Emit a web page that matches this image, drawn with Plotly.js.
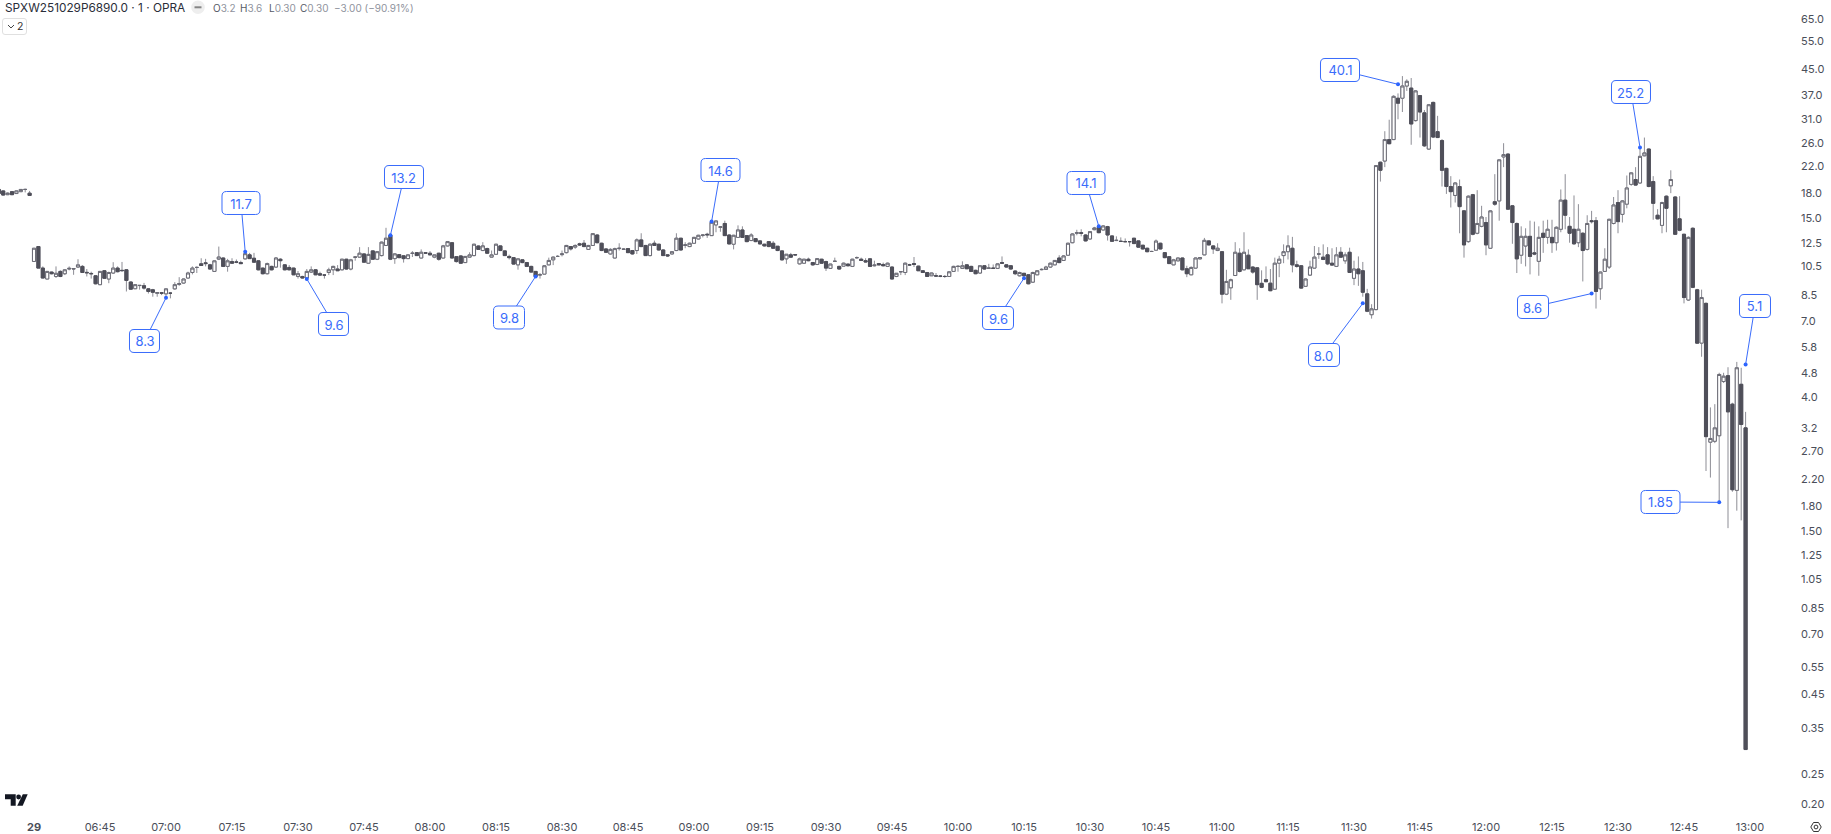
<!DOCTYPE html>
<html>
<head>
<meta charset="utf-8">
<script src="https://cdn.plot.ly/plotly-3.0.1.min.js"></script>
<style>html,body{margin:0;padding:0;background:#fff}#chart{width:1831px;height:834px}</style>
</head>
<body>
<div id="chart"></div>
<script>
// Each row: [open, high, low, close], one per minute.
const barsPre = [[18.5,18.55,17.9,17.95],[18.3,18.35,17.7,17.75],[17.8,18.1,17.75,18.0],[18.2,18.25,17.75,17.8],[17.95,18.35,17.9,18.3],[18.2,18.55,18.15,18.5],[18.5,18.6,18.1,18.5],[18.0,18.3,17.65,17.7]];
const bars0630 = [[10.89,12.0,10.89,12.0],[12.15,12.15,10.37,10.37],[10.37,10.5,9.64,9.64],[9.57,10.12,9.57,10.12],[10.07,10.1,9.9,9.95],[9.75,10.5,9.64,9.98],[10.12,10.2,9.7,9.75],[9.95,10.3,9.85,10.24],[10.3,10.5,10.2,10.35],[10.3,10.35,9.87,10.33],[10.45,11.07,10.4,10.62],[10.5,10.6,10.0,10.04],[10.05,10.3,9.75,10.02],[9.97,10.1,9.6,9.95],[9.8,9.85,9.2,9.24],[9.18,10.15,9.15,10.12],[10.17,10.2,9.6,9.62],[9.57,10.1,9.28,10.04],[10.0,10.83,9.95,10.37],[10.37,10.5,10.05,10.1],[10.2,10.85,10.1,10.18],[10.24,10.3,8.73,9.47],[9.36,9.4,8.85,8.88],[8.91,9.18,8.91,9.18],[9.12,9.15,8.85,9.13],[9.11,9.3,8.85,8.95],[8.9,8.95,8.6,8.73],[8.84,8.9,8.4,8.68],[8.62,8.67,8.4,8.65],[8.65,8.7,8.5,8.62]];
const bars0700 = [[8.58,8.95,8.33,8.9],[8.62,8.7,8.3,8.62],[8.9,9.35,8.85,9.18],[9.2,9.7,9.1,9.25],[9.29,9.6,9.25,9.57],[9.64,10.1,9.6,10.0],[10.04,10.5,9.9,10.37],[10.42,10.5,10.0,10.42],[10.7,11.15,10.55,10.57],[10.78,11.1,10.5,10.72],[10.62,10.7,10.25,10.3],[10.12,11.0,10.1,10.94],[11.08,12.15,11.0,11.25],[11.17,11.2,10.45,10.5],[10.5,11.1,10.1,10.94],[10.88,11.15,10.7,10.75],[10.85,11.05,10.75,10.83],[10.8,10.95,10.7,10.72],[11.1,11.7,11.05,11.53],[11.43,11.6,11.1,11.12],[11.15,11.6,10.8,10.83],[10.94,11.0,10.2,10.24],[10.37,10.4,9.9,9.95],[9.95,10.8,9.9,10.72],[10.5,10.55,10.2,10.24],[10.45,11.25,10.4,11.17],[11.07,11.15,10.4,10.95],[10.62,10.65,10.2,10.24],[10.42,10.6,10.2,10.24],[10.37,10.4,9.85,9.87]];
const bars0730 = [[9.75,10.15,9.6,9.95],[9.75,9.8,9.6,9.64],[9.64,10.3,9.57,10.12],[10.07,10.5,10.0,10.24],[10.24,10.3,9.85,9.87],[9.95,10.1,9.8,9.85],[9.85,9.87,9.6,9.85],[10.04,10.4,9.85,10.24],[10.24,10.55,9.85,10.5],[10.3,10.6,10.15,10.17],[10.24,11.1,10.2,11.07],[11.07,11.1,10.25,10.3],[10.3,11.1,10.2,11.02],[11.24,11.3,10.95,11.24],[11.24,12.1,11.2,11.57],[11.51,11.55,10.8,10.83],[10.75,12.1,10.7,11.47],[11.77,11.8,11.05,11.07],[11.07,11.75,11.0,11.7],[11.37,12.6,11.3,12.55],[12.25,13.95,12.2,12.92],[13.2,13.25,11.0,11.07],[11.12,11.55,10.7,11.51],[11.45,11.5,11.15,11.2],[11.35,11.4,10.8,11.12],[11.12,11.5,11.1,11.43],[11.55,11.75,11.25,11.57],[11.62,11.65,11.35,11.37],[11.17,11.9,11.15,11.65],[11.6,11.65,11.55,11.58]];
const bars0800 = [[11.57,11.75,11.4,11.43],[11.24,11.45,11.15,11.43],[11.57,11.6,10.95,11.07],[11.17,12.3,11.15,12.21],[12.21,12.65,12.15,12.6],[12.5,12.55,11.15,11.17],[11.28,11.3,10.8,10.88],[11.34,11.4,10.7,10.75],[10.8,11.3,10.8,11.3],[11.24,11.65,11.2,11.43],[11.37,12.4,11.3,12.36],[12.2,12.25,11.85,11.9],[11.8,12.55,11.75,12.21],[11.97,12.05,11.5,11.57],[11.24,11.8,11.2,11.43],[11.48,12.4,11.45,12.36],[12.21,12.25,11.75,11.8],[11.77,11.8,11.35,11.37],[11.3,11.45,11.05,11.2],[11.2,11.25,10.65,10.68],[10.62,11.15,10.25,11.1],[11.02,11.05,10.75,10.8],[10.8,10.85,10.45,10.5],[10.5,10.55,10.05,10.07],[10.12,10.15,9.75,9.75],[9.87,10.0,9.6,9.87],[9.92,10.6,9.9,10.55],[10.62,11.2,10.6,10.97],[11.02,11.3,10.6,11.24],[11.3,11.4,11.25,11.3]];
const bars0830 = [[11.45,11.8,11.3,11.51],[11.62,12.3,11.55,12.25],[12.15,12.2,11.8,11.94],[12.1,12.35,11.95,12.25],[12.4,12.5,12.2,12.3],[12.45,12.75,12.1,12.15],[11.9,12.3,11.85,12.25],[12.25,13.4,12.2,13.36],[13.23,13.3,12.45,12.5],[12.45,12.5,11.75,11.8],[11.94,12.0,11.6,11.65],[11.51,12.0,11.45,11.9],[11.17,12.05,11.15,11.97],[11.97,12.45,11.8,12.0],[11.9,12.0,11.85,11.92],[11.97,12.0,11.6,11.62],[11.8,11.85,11.45,11.51],[11.8,12.9,11.5,12.76],[12.76,13.4,12.1,12.15],[12.25,12.3,11.35,11.37],[11.37,12.45,11.3,12.36],[12.45,12.7,12.2,12.25],[12.36,12.4,11.8,11.85],[11.85,11.9,11.35,11.37],[11.43,11.5,11.25,11.35],[11.51,11.75,11.45,11.7],[11.8,13.4,11.75,12.92],[12.92,12.95,11.8,11.85],[12.25,12.55,12.0,12.3],[12.15,12.5,12.1,12.45]];
const bars0900 = [[12.45,13.05,12.4,13.0],[12.85,13.25,12.8,13.2],[13.2,13.3,13.0,13.22],[13.3,13.45,12.95,13.25],[13.17,14.6,13.15,14.53],[14.25,14.7,13.5,14.67],[14.0,14.1,13.55,14.05],[14.4,14.7,13.15,13.17],[13.23,13.3,12.35,12.39],[12.36,13.25,11.9,13.2],[13.0,14.2,12.95,13.73],[13.73,14.1,12.95,13.0],[13.17,13.2,12.55,12.6],[12.7,13.4,12.65,13.23],[12.88,12.9,12.55,12.6],[12.67,12.7,12.35,12.39],[12.36,12.4,12.15,12.21],[12.6,12.65,12.1,12.15],[12.45,12.65,11.95,12.0],[12.18,12.2,11.75,11.8],[11.77,11.8,10.95,11.02],[11.1,11.5,10.7,11.48],[11.43,11.6,11.2,11.24],[11.45,11.5,11.35,11.43],[10.7,11.2,10.65,11.1],[10.75,11.1,10.7,11.07],[11.07,11.2,10.9,10.95],[10.8,10.85,10.55,10.62],[10.65,11.15,10.6,11.12],[11.07,11.1,10.7,10.75]];
const bars0930 = [[10.88,10.95,10.15,10.37],[10.35,10.7,10.3,10.68],[10.9,11.2,10.85,10.9],[10.5,10.55,10.25,10.3],[10.52,10.8,10.5,10.75],[10.68,10.7,10.5,10.55],[10.5,11.1,10.45,11.07],[11.2,11.3,11.1,11.2],[11.07,11.2,10.95,10.97],[10.95,11.15,10.8,10.85],[11.1,11.15,10.45,10.5],[10.55,10.95,10.5,10.6],[10.72,10.75,10.6,10.62],[10.65,10.8,10.5,10.55],[10.5,10.8,10.45,10.75],[10.45,10.5,9.55,9.57],[9.75,10.0,9.7,9.98],[10.1,10.15,9.85,10.1],[10.04,10.8,9.85,10.75],[10.62,10.7,10.55,10.62],[10.72,11.25,10.45,10.65],[10.52,10.55,10.15,10.17],[10.17,10.2,10.0,10.04],[10.04,10.07,9.72,9.75],[9.8,10.02,9.78,10.0],[9.8,10.0,9.75,9.78],[9.78,9.85,9.7,9.76],[9.75,9.85,9.65,9.75],[9.75,10.15,9.72,10.09],[10.12,10.55,10.1,10.5]];
const bars1000 = [[10.5,10.6,10.1,10.5],[10.35,10.9,10.3,10.55],[10.62,10.65,10.3,10.32],[10.5,10.55,10.1,10.12],[10.2,10.25,9.92,9.95],[10.0,10.6,9.95,10.55],[10.55,10.6,10.25,10.3],[10.35,10.7,10.32,10.37],[10.37,10.65,10.3,10.35],[10.35,10.75,10.3,10.7],[10.8,11.3,10.7,10.75],[10.62,10.65,10.4,10.45],[10.55,10.6,10.25,10.3],[10.15,10.2,9.85,9.95],[9.8,10.1,9.75,10.04],[9.98,10.0,9.63,9.8],[9.87,9.9,9.2,9.24],[9.35,10.1,9.3,10.04],[9.87,10.2,9.85,10.17],[10.25,10.35,10.2,10.27],[10.27,10.55,10.25,10.45],[10.45,10.8,10.4,10.75],[10.62,11.0,10.6,10.97],[11.17,11.4,10.75,10.8],[10.97,11.4,10.95,11.34],[11.4,12.5,11.35,12.45],[12.5,13.4,12.45,13.33],[13.4,13.75,13.2,13.45],[13.45,13.8,13.1,13.4],[13.23,13.3,12.62,12.67]];
const bars1030 = [[12.85,13.6,12.8,13.56],[13.76,14.05,13.7,13.93],[14.0,14.1,13.4,13.46],[13.73,14.2,13.7,14.14],[14.07,14.15,12.7,13.23],[13.14,13.18,12.6,12.63],[12.7,13.1,12.65,12.72],[12.63,13.0,12.6,12.62],[12.6,12.9,12.55,12.6],[12.6,12.65,12.15,12.6],[12.92,12.95,12.4,12.42],[12.67,12.7,12.05,12.1],[12.27,12.3,11.9,11.94],[12.0,12.05,11.65,11.7],[11.72,11.78,11.68,11.72],[11.83,12.8,11.8,12.65],[12.45,12.5,11.9,11.94],[11.62,11.65,11.15,11.2],[11.28,11.3,10.7,10.72],[10.62,11.1,10.6,11.02],[10.94,11.2,10.9,11.17],[11.17,11.2,10.2,10.24],[10.32,10.55,9.7,9.95],[9.87,10.5,9.85,10.42],[10.37,11.2,10.35,11.17],[11.1,11.25,11.05,11.2],[11.43,12.95,11.4,12.72],[12.67,12.7,12.25,12.3],[12.21,12.25,11.51,11.94],[11.8,12.45,11.75,12.0]];
const bars1100 = [[11.7,11.75,8.0,8.56],[8.56,10.24,8.5,9.4],[8.97,9.6,8.21,9.52],[9.82,12.55,9.78,11.65],[11.57,12.0,10.05,10.12],[10.24,13.5,10.2,11.65],[11.4,11.9,10.3,10.32],[10.45,10.5,9.95,10.07],[10.39,10.4,8.21,9.18],[9.27,10.2,8.95,9.0],[9.52,10.5,9.35,9.38],[9.28,10.3,8.75,8.78],[8.88,11.2,8.85,10.75],[10.75,11.35,9.7,11.07],[11.37,12.35,10.75,11.7],[11.7,13.2,11.05,12.21],[12.0,13.05,10.05,10.62],[10.62,10.95,10.4,10.5],[10.55,10.6,8.9,8.95],[9.07,9.6,9.05,9.57],[9.85,10.95,9.8,10.45],[10.37,12.2,10.35,11.24],[11.5,12.1,11.1,11.5],[11.24,12.35,11.0,11.05],[11.43,12.1,10.6,10.7],[10.75,12.0,10.55,10.6],[10.5,12.1,10.45,11.43],[11.65,12.1,11.2,11.24],[10.94,11.65,10.7,11.43],[11.65,12.05,10.0,10.04]];
const bars1130 = [[9.62,10.95,9.15,10.3],[10.3,11.3,9.1,9.95],[10.17,10.85,8.4,8.68],[8.58,8.9,7.5,7.55],[7.36,7.95,7.15,7.68],[7.64,22.1,7.6,22.05],[22.6,22.7,19.6,21.3],[22.8,28.4,21.8,26.7],[26.7,30.9,25.8,25.9],[26.7,37.0,26.6,36.7],[36.2,37.5,31.0,34.9],[36.2,42.6,32.7,39.6],[39.6,41.6,38.2,41.0],[39.0,42.0,25.7,29.95],[30.7,38.4,30.5,38.2],[36.9,37.0,27.1,32.7],[32.5,33.2,25.3,25.5],[24.9,34.7,24.8,34.5],[35.1,35.3,27.0,27.2],[28.3,31.8,27.0,27.1],[26.5,26.8,18.9,21.3],[21.6,21.7,17.9,18.9],[18.9,20.4,16.2,18.2],[17.7,19.5,16.8,19.4],[18.9,19.9,13.4,16.3],[15.8,15.9,11.2,12.3],[12.6,17.7,12.5,17.6],[17.8,17.9,13.2,13.3],[13.4,18.4,13.3,14.4],[14.1,16.4,14.0,15.1]];
const bars1200 = [[14.5,15.1,11.4,12.3],[12.0,15.9,11.95,15.8],[16.9,20.7,16.4,16.6],[17.0,23.1,14.7,23.0],[23.5,26.0,21.8,23.9],[24.0,24.1,15.95,16.0],[16.4,16.5,12.4,14.5],[14.4,14.5,10.0,11.1],[11.4,14.1,10.7,13.1],[12.2,13.9,10.5,13.1],[13.1,14.7,9.9,11.3],[11.6,14.6,11.4,11.5],[10.9,14.1,9.8,13.0],[13.4,14.7,11.6,13.0],[13.0,14.8,12.4,13.8],[13.0,14.8,11.6,12.5],[12.5,14.1,11.8,14.0],[13.8,18.5,13.5,17.1],[17.1,20.7,13.8,15.3],[14.1,15.1,12.5,13.4],[13.8,17.7,12.3,12.4],[12.5,16.6,12.1,13.8],[13.4,13.5,9.4,11.8],[11.9,15.3,11.8,14.4],[14.7,15.8,14.4,14.6],[14.7,15.1,7.7,8.73],[8.91,10.1,8.21,10.07],[10.12,12.0,10.1,11.07],[10.45,14.9,10.3,14.85],[14.4,17.5,14.3,16.5]];
const bars1230 = [[16.8,18.4,13.4,14.6],[15.4,17.1,14.5,17.0],[16.6,20.5,16.1,18.7],[19.2,21.0,19.0,20.9],[19.9,21.8,19.05,19.1],[19.4,24.9,19.3,23.6],[23.7,27.1,23.6,24.2],[24.9,25.0,18.8,18.9],[19.6,20.4,14.8,16.7],[15.3,16.0,14.85,14.9],[14.2,16.9,13.4,16.8],[17.6,17.7,13.5,16.1],[19.0,21.3,18.0,19.9],[17.5,17.6,13.25,13.3],[14.9,17.6,13.6,13.7],[13.3,13.35,8.0,8.35],[8.2,13.1,8.15,13.0],[13.9,14.0,8.95,9.0],[8.84,8.9,5.95,5.97],[5.97,8.85,5.4,8.35],[8.0,8.05,2.33,3.0],[2.88,3.72,2.22,2.96],[2.9,3.81,2.86,3.2],[3.02,4.8,1.86,4.74],[4.5,4.8,4.45,4.68],[4.7,5.0,1.53,3.6],[3.81,3.85,2.0,2.03],[2.02,5.2,1.74,4.98],[4.41,4.98,1.62,3.28],[3.2,3.6,0.3,0.3]];

const allBars = [].concat(barsPre, bars0630, bars0700, bars0730, bars0800, bars0830, bars0900, bars0930, bars1000, bars1030, bars1100, bars1130, bars1200, bars1230);
const firstMinute = 382; // minute of day of the first bar drawn (06:22)
const minutes = allBars.map((_, i) => firstMinute + i);

const priceTicks = [65,55,45,37,31,26,22,18,15,12.5,10.5,8.5,7,5.8,4.8,4,3.2,2.7,2.2,1.8,1.5,1.25,1.05,0.85,0.7,0.55,0.45,0.35,0.25,0.2];
const priceTickLabels = ['65.0','55.0','45.0','37.0','31.0','26.0','22.0','18.0','15.0','12.5','10.5','8.5','7.0','5.8','4.8','4.0','3.2','2.70','2.20','1.80','1.50','1.25','1.05','0.85','0.70','0.55','0.45','0.35','0.25','0.20'];
const timeTicks = [390,405,420,435,450,465,480,495,510,525,540,555,570,585,600,615,630,645,660,675,690,705,720,735,750,765,780];
const timeTickLabels = ['<b>29</b>','06:45','07:00','07:15','07:30','07:45','08:00','08:15','08:30','08:45','09:00','09:15','09:30','09:45','10:00','10:15','10:30','10:45','11:00','11:15','11:30','11:45','12:00','12:15','12:30','12:45','13:00'];

const calloutLabels = ['8.3','11.7','9.6','13.2','9.8','14.6','9.6','14.1','8.0','40.1','8.6','25.2','5.1','1.85'];
const calloutMinutes = [420,438,452,471,504,544,615,632,692,700,744,755,779,773];
const calloutPrices = [8.33,11.7,9.57,13.2,9.75,14.6,9.63,14.1,8.0,40.1,8.6,25.2,5.1,1.85];
// label box centre (screen px) and width
const boxCentreX = [144.5,241,333.5,404,509,720.5,998,1086,1324,1340,1533,1631,1755,1660.5];
const boxCentreY = [341,203,324,177,317.5,170,318,183,355,70,307,92,306,502];
const boxWidth = [30,38,30,39,31,39,31,38,31,39,31,39,31,39];

const headerTitle = 'SPXW251029P6890.0 · 1 · OPRA';
const headerLetters = ['O','H','L','C'];
const headerValues = ['3.2','3.6','0.30','0.30'];
const headerChange = '−3.00 (−90.91%)';

// plot-area geometry, in screen px
const W = 1831, H = 834, plotR = 1800, plotB = 812;
const pxPerMinute = 4.4, x0630 = 34;
const yTop = 1.8726, yBottom = -0.7225;
const pxPerDecade = plotB / (yTop - yBottom);
const xOf = m => x0630 + (m - 390) * pxPerMinute;
const yOf = p => (yTop - Math.log10(p)) * pxPerDecade;
const px = x => (x / plotR).toFixed(5);
const py = y => (1 - y / plotB).toFixed(5);
const pt = (x, y) => px(x) + ',' + py(y);

function roundRect(x0, y0, x1, y1, r) {
  return 'M' + pt(x0 + r, y0) + 'L' + pt(x1 - r, y0) + 'Q' + pt(x1, y0) + ' ' + pt(x1, y0 + r) +
    'L' + pt(x1, y1 - r) + 'Q' + pt(x1, y1) + ' ' + pt(x1 - r, y1) +
    'L' + pt(x0 + r, y1) + 'Q' + pt(x0, y1) + ' ' + pt(x0, y1 - r) +
    'L' + pt(x0, y0 + r) + 'Q' + pt(x0, y0) + ' ' + pt(x0 + r, y0) + 'Z';
}
function poly(list) { return 'M' + list.map(p => pt(p[0], p[1])).join('L') + 'Z'; }
function open(list) { return 'M' + list.map(p => pt(p[0], p[1])).join('L'); }
const paperShape = (path, fill, line, width) => ({type:'path', xref:'paper', yref:'paper', path, fillcolor: fill, line:{color: line, width: width}, layer:'above'});
const circle = (cx, cy, r, fill, line, width) => ({type:'circle', xref:'paper', yref:'paper', x0:px(cx-r), x1:px(cx+r), y0:py(cy+r), y1:py(cy-r), fillcolor: fill, line:{color: line, width: width}, layer:'above'});
const headerNote = (x, y, text, size, color, anchor) => ({xref:'paper', yref:'paper', x:px(x), y:py(y), xanchor:anchor || 'left', yanchor:'middle', showarrow:false,
  text, font:{family:'Inter, sans-serif', size, color}});

const blue = '#3a6cfb';
const shapes = [];
const annotations = [];
calloutLabels.forEach((label, i) => {
  const w = boxWidth[i], h = 23, cx = boxCentreX[i], cy = boxCentreY[i];
  shapes.push(paperShape(roundRect(cx - w/2, cy - h/2, cx + w/2, cy + h/2, 4.5), '#ffffff', blue, 1));
  annotations.push({
    x: calloutMinutes[i], y: Math.log10(calloutPrices[i]), xref:'x', yref:'y',
    ax: cx - xOf(calloutMinutes[i]), ay: cy - yOf(calloutPrices[i]), axref:'pixel', ayref:'pixel',
    text: label, showarrow: true, arrowhead: 0, arrowwidth: 1, arrowcolor: blue, standoff: 0,
    width: w, height: h, borderpad: 0, borderwidth: 0, align:'center', valign:'middle',
    font:{family:'Inter, sans-serif', size:13, color: blue}
  });
});

// header
annotations.push(headerNote(3, 7.5, headerTitle, 11.8, '#2a2e39'));
const headerX = [210.7, 238.3, 266.7, 297.7];
headerLetters.forEach((l, i) => {
  annotations.push(headerNote(headerX[i], 7.5, '<span style="color:#555a66">' + l + '</span><span style="color:#8f939d">' + headerValues[i] + '</span>', 10, '#8f939d'));
});
annotations.push(headerNote(331.7, 7.5, headerChange, 10, '#8f939d'));
shapes.push(circle(198, 7.3, 6.8, '#eeeeee', '#eeeeee', 0));
shapes.push(paperShape(open([[194.5,7.3],[201.5,7.3]]), 'rgba(0,0,0,0)', '#858585', 2));
// collapse button
shapes.push(paperShape(roundRect(2.5,18.5,26.5,34.5,2.5), '#ffffff', '#e0e0e0', 1));
shapes.push(paperShape(open([[8,25],[11,28],[14,25]]), 'rgba(0,0,0,0)', '#444444', 1));
annotations.push(headerNote(20.3, 26, '2', 10.5, '#333333', 'center'));
// logo
shapes.push(paperShape(poly([[5,794.3],[15.7,794.3],[15.7,805.7],[10.7,805.7],[10.7,799.3],[5,799.3]]), '#131722', '#131722', 0));
shapes.push(circle(18.6, 797, 2.4, '#131722', '#131722', 0));
shapes.push(paperShape(poly([[22.8,794.3],[27.7,794.3],[22.7,805.7],[17.2,805.7]]), '#131722', '#131722', 0));
// settings icon
shapes.push(paperShape(poly([[1810.8,827],[1813.5,822.5],[1818.5,822.5],[1821.2,827],[1818.5,831.5],[1813.5,831.5]]), 'rgba(0,0,0,0)', '#333333', 1));
shapes.push(circle(1816, 827, 1.9, 'rgba(0,0,0,0)', '#333333', 1));

const opens = allBars.map(b => b[0]), highs = allBars.map(b => b[1]), lows = allBars.map(b => b[2]), closes = allBars.map(b => b[3]);
const wickColor = '#8d8d95';
const traces = [
  // full candles in the lighter wick colour
  {type:'candlestick', x: minutes, open: opens, high: highs, low: lows, close: closes,
   increasing:{line:{color:wickColor, width:1}, fillcolor:'#ffffff'},
   decreasing:{line:{color:wickColor, width:1}, fillcolor:'#4f4f59'},
   whiskerwidth:0, hoverinfo:'skip'},
  // the same candles' bodies on top, in the darker body colour
  {type:'candlestick', x: minutes, open: opens, close: closes,
   high: allBars.map(b => Math.max(b[0], b[3])), low: allBars.map(b => Math.min(b[0], b[3])),
   increasing:{line:{color:'#6a6a74', width:1}, fillcolor:'#ffffff'},
   decreasing:{line:{color:'#4f4f59', width:1}, fillcolor:'#4f4f59'},
   whiskerwidth:0, hoverinfo:'skip'},
  {type:'scatter', mode:'markers', x: calloutMinutes, y: calloutPrices, hoverinfo:'skip',
   marker:{color: '#2962ff', size:4, line:{width:0}}}
];

const layout = {
  width: W, height: H, margin:{l:0, r:W - plotR, t:0, b:H - plotB, pad:0},
  paper_bgcolor:'#ffffff', plot_bgcolor:'#ffffff', showlegend:false, hovermode:false, dragmode:false,
  boxmode:'overlay', boxgap:0.3, boxgroupgap:0,
  xaxis:{type:'linear', range:[390 - x0630/pxPerMinute, 390 + (plotR - x0630)/pxPerMinute], rangeslider:{visible:false},
    tickmode:'array', tickvals: timeTicks, ticktext: timeTickLabels, ticks:'', showgrid:false, zeroline:false, showline:false,
    tickfont:{family:'Inter, sans-serif', size:11, color:'#4a4e59'}, ticklabelstandoff:7, automargin:false},
  yaxis:{type:'log', range:[yBottom, yTop], side:'right', tickmode:'array', tickvals: priceTicks, ticktext: priceTickLabels, ticks:'',
    showgrid:false, zeroline:false, showline:false, tickfont:{family:'Inter, sans-serif', size:11, color:'#4a4e59'}, automargin:false},
  shapes, annotations
};
Plotly.newPlot('chart', traces, layout, {displayModeBar:false, responsive:false});
</script>
</body>
</html>
